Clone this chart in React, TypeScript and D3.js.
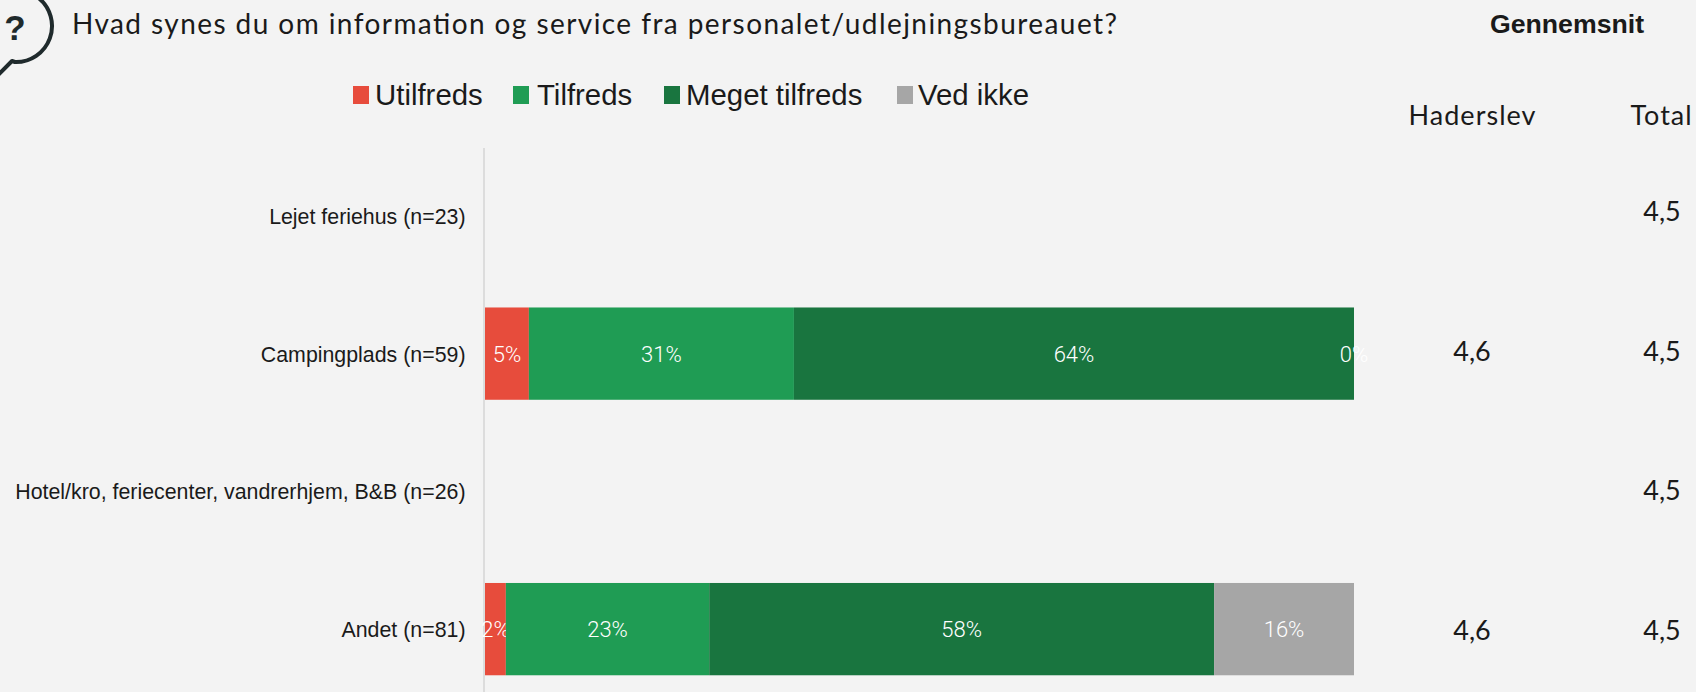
import React from "react";
import * as d3 from "d3";

const categories = ["Lejet feriehus (n=23)", "Campingplads (n=59)", "Hotel/kro, feriecenter, vandrerhjem, B&B (n=26)", "Andet (n=81)"];
const seriesNames = ["Utilfreds", "Tilfreds", "Meget tilfreds", "Ved ikke"];
const seriesColors = ["#e74c3c", "#1f9c54", "#19753f", "#a6a6a6"];
const utilfreds = [null, 5.05, null, 2.4];
const tilfreds = [null, 30.5, null, 23.4];
const megetTilfreds = [null, 64.45, null, 58.1];
const vedIkke = [null, 0, null, 16.1];
const haderslev = ["", "4,6", "", "4,6"];
const total = ["4,5", "4,5", "4,5", "4,5"];
const title = "Hvad synes du om information og service fra personalet/udlejningsbureauet?";

const W = 1696, H = 692;
const BG = "#f3f3f3";
const INK = "#1a1a1a";
const HEAD = "Lato, 'Open Sans', sans-serif";
const ARIAL = "'Liberation Sans', Arial, sans-serif";
const LABEL = "Roboto, sans-serif";

const x = d3.scaleLinear().domain([0, 100]).range([485, 1354]);
const y = d3.scaleBand<string>().domain(categories).range([147, 698]).paddingInner(0.33).paddingOuter(0.165);
const yValue = d3.scalePoint<string>().domain(categories).range([221, 640]);
const series = [utilfreds, tilfreds, megetTilfreds, vedIkke];
const rows = categories.map((c, i) => series.map((s) => s[i]));
const stackGen = d3.stack<(number | null)[], number>()
  .keys(seriesNames.map((_, i) => i))
  .value((d, k) => d[k] ?? 0);
const stacked = stackGen(rows);

const legendX = [353, 513, 664, 897];
const legendTextX = [375, 537, 686, 918];
const bubble = d3.path();
bubble.moveTo(38, -3);
bubble.arc(16, 26, 36, -0.9, 1.6);
bubble.lineTo(12, 61);
bubble.lineTo(-1, 74);

export default function App() {
  return (
    <svg width={W} height={H} viewBox={`0 0 ${W} ${H}`} style={{ position: "absolute", left: 0, top: 0, background: BG }}>
      <rect width={W} height={H} fill={BG} />
      <path d={bubble.toString()} fill="none" stroke="#1f2a2c" strokeWidth={4} strokeLinecap="round" strokeLinejoin="round" />
      <text x={15} y={40} textAnchor="middle" fontFamily={ARIAL} fontWeight="bold" fontSize={35} fill="#1f2a2c">?</text>
      <text x={72} y={34} fontFamily={HEAD} fontSize={28} fill={INK} textLength={1045} lengthAdjust="spacing">{title}</text>
      <text x={1567} y={33} textAnchor="middle" fontFamily={ARIAL} fontWeight="bold" fontSize={26.7} fill={INK}>Gennemsnit</text>
      <text x={1472} y={125} textAnchor="middle" fontFamily={HEAD} fontSize={27} fill={INK} textLength={127} lengthAdjust="spacing">Haderslev</text>
      <text x={1661} y={125} textAnchor="middle" fontFamily={HEAD} fontSize={27} fill={INK} textLength={61} lengthAdjust="spacing">Total</text>

      {seriesNames.map((n, i) => (
        <g key={n}>
          <rect x={legendX[i]} y={86} width={16} height={18} fill={seriesColors[i]} />
          <text x={legendTextX[i]} y={105} fontFamily={ARIAL} fontSize={29.4} fill={INK}>{n}</text>
        </g>
      ))}

      <line x1={484} x2={484} y1={148} y2={H} stroke="#dcdcdc" strokeWidth={2} />

      {categories.map((c) => (
        <text key={c} x={465.5} y={y(c)! + y.bandwidth() / 2 + 8} textAnchor="end" fontFamily={ARIAL} fontSize={21.35} fill={INK}>{c}</text>
      ))}

      {stacked.map((layer, si) => (
        <g key={si}>
          {layer.map((d, i) => {
            const v = series[si][i];
            if (v === null) return null;
            const x0 = x(d[0]), x1 = x(d[1]);
            const cy = y(categories[i])! + y.bandwidth() / 2;
            return (
              <g key={i}>
                <rect x={x0} y={y(categories[i])} width={x1 - x0} height={y.bandwidth()} fill={seriesColors[si]} />
                <text x={(x0 + x1) / 2} y={cy + 8} textAnchor="middle" fontFamily={LABEL} fontWeight={300} fontSize={22} fill="#ffffff">{Math.round(v)}%</text>
              </g>
            );
          })}
        </g>
      ))}

      {categories.map((c, i) => (
        <g key={c}>
          <text x={1472} y={yValue(c)} textAnchor="middle" fontFamily={HEAD} fontSize={27} fill={INK}>{haderslev[i]}</text>
          <text x={1662} y={yValue(c)} textAnchor="middle" fontFamily={HEAD} fontSize={27} fill={INK}>{total[i]}</text>
        </g>
      ))}
    </svg>
  );
}
